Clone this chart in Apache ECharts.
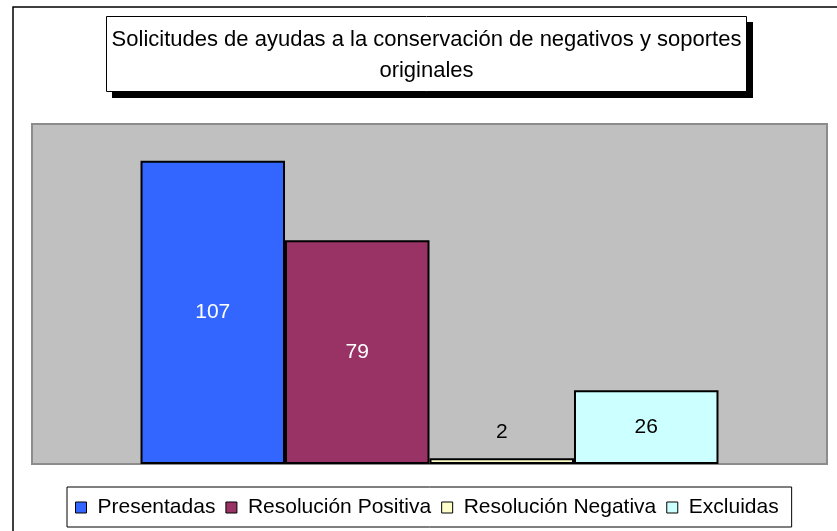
<!DOCTYPE html>
<html>
<head>
<meta charset="utf-8">
<script src="https://cdn.jsdelivr.net/npm/echarts@6/dist/echarts.min.js"></script>
<style>html,body{margin:0;padding:0;background:#fff}#c{width:837px;height:531px}</style>
</head>
<body>
<div id="c"></div>
<script>
var titleLines = ['Solicitudes de ayudas a la conservación de negativos y soportes', 'originales'];
var categories = [''];
var seriesNames = ['Presentadas', 'Resolución Positiva', 'Resolución Negativa', 'Excluidas'];
var presentadas = [107];
var resolucionPositiva = [79];
var resolucionNegativa = [2];
var excluidas = [26];
var seriesValues = [presentadas, resolucionPositiva, resolucionNegativa, excluidas];
var colors = ['#3366FF', '#993366', '#FFFFCC', '#CCFFFF'];
var labelColors = ['#fff', '#fff', '#000', '#000'];
var labelPos = ['inside', 'inside', 'top', 'inside'];

var FONT = '"Liberation Sans", Arial, sans-serif';
var chart = echarts.init(document.getElementById('c'), null, {renderer: 'canvas'});
var series = seriesNames.map(function (n, i) {
  return {
    name: n,
    type: 'bar',
    data: seriesValues[i],
    barGap: '0%',
    barCategoryGap: '27.3%',
    itemStyle: {color: colors[i], borderColor: '#000', borderWidth: 2},
    label: {show: true, position: labelPos[i], distance: 16, color: labelColors[i],
      fontFamily: FONT, fontSize: 21},
    emphasis: {disabled: true},
    animation: false
  };
});
chart.setOption({
  animation: false,
  grid: {left: 32, top: 124, width: 795, height: 340, show: true,
    backgroundColor: '#C0C0C0', borderColor: '#8C8C8C', borderWidth: 2},
  xAxis: {type: 'category', data: categories, show: false},
  yAxis: {type: 'value', min: 0, max: 120, show: false},
  legend: {
    left: 67, top: 487, padding: [10, 13, 9, 8],
    backgroundColor: '#fff', borderColor: '#000', borderWidth: 1,
    icon: 'rect', itemWidth: 11, itemHeight: 11, itemGap: 10,
    itemStyle: {borderColor: '#000', borderWidth: 1},
    textStyle: {fontFamily: FONT, fontSize: 21, color: '#000', padding: [0, 0, 0, 6]},
    data: seriesNames,
    selectedMode: false
  },
  graphic: [
    {type: 'rect', shape: {x: 13, y: 7, width: 840, height: 540},
      style: {fill: 'none', stroke: '#000', lineWidth: 1.5}, silent: true},
    {type: 'rect', shape: {x: 112, y: 22, width: 641, height: 76},
      style: {fill: '#000'}, silent: true},
    {type: 'rect', shape: {x: 106.5, y: 16.5, width: 640, height: 75},
      style: {fill: '#fff', stroke: '#000', lineWidth: 1}, silent: true},
    {type: 'text', x: 426.5, y: 24, style: {text: titleLines.join('\n'),
      fontFamily: FONT, fontSize: 22, lineHeight: 31, fill: '#000',
      align: 'center', verticalAlign: 'top'}, silent: true}
  ],
  series: series
});
</script>
</body>
</html>
